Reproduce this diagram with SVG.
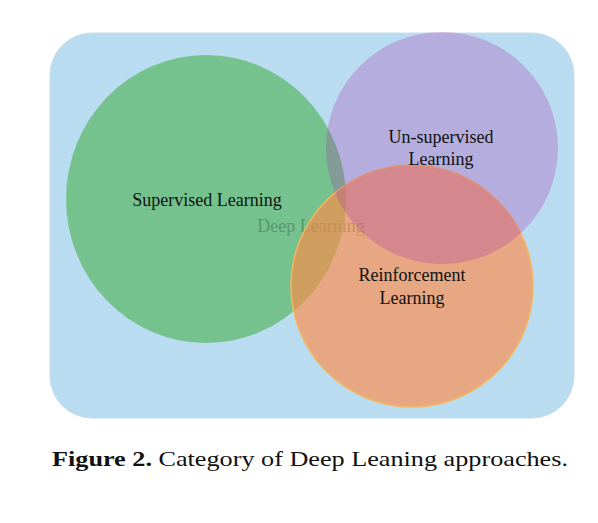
<svg xmlns="http://www.w3.org/2000/svg" width="598" height="523" viewBox="0 0 598 523">
<style>
.lbl{font-family:"Liberation Serif","Times New Roman",serif;font-size:18px;fill:#111;text-anchor:middle}
.cap{font-family:"Liberation Serif","Times New Roman",serif;font-size:22px;fill:#111}
</style>
<rect width="598" height="523" fill="#ffffff"/>
<g id="deep-learning">
<rect x="50" y="33" width="524" height="385" rx="42" ry="42" fill="#badcf0" stroke="#c6dcea" stroke-width="1"/>
</g>
<g id="supervised">
<ellipse cx="206" cy="199" rx="140" ry="144" fill="#6cbe80" fill-opacity="0.88"/>
</g>
<text id="deep-label" x="311" y="232" class="lbl" style="fill:#4f8f68;fill-opacity:0.85">Deep Learning</text>
<g id="reinforcement">
<circle cx="412" cy="286" r="121" fill="#ff8b47" fill-opacity="0.65" stroke="#f5b662" stroke-width="1.5"/>
</g>
<g id="unsupervised">
<circle cx="442" cy="148" r="116" fill="#a735ac" fill-opacity="0.28"/>
</g>
<g id="labels">
<text x="207" y="206" class="lbl">Supervised Learning</text>
<text x="441" y="143" class="lbl">Un-supervised</text>
<text x="441" y="165" class="lbl">Learning</text>
<text x="412" y="281" class="lbl">Reinforcement</text>
<text x="412" y="304" class="lbl">Learning</text>
</g>
<g id="connectors"></g>
<text x="52" y="466" class="cap" textLength="516" lengthAdjust="spacingAndGlyphs"><tspan font-weight="bold">Figure 2.</tspan> Category of Deep Leaning approaches.</text>
</svg>
